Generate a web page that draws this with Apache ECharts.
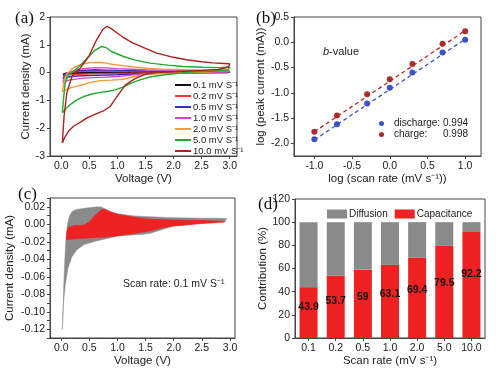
<!DOCTYPE html>
<html><head><meta charset="utf-8">
<script src="https://cdn.jsdelivr.net/npm/echarts@6/dist/echarts.min.js"></script>
<style>html,body{margin:0;padding:0;background:#fff}#c{width:496px;height:372px}</style>
</head><body><div id="c"></div>
<script>
// ---------- Panel (a): CV curves [V, mA] ----------
var cvNames = ['0.1 mV S⁻¹','0.2 mV S⁻¹','0.5 mV S⁻¹','1.0 mV S⁻¹','2.0 mV S⁻¹','5.0 mV S⁻¹','10.0 mV S⁻¹'];
var cvColors = ['#111111','#ff3333','#3333bb','#dd44cc','#ff9933','#22aa33','#aa2222'];
var cv01 = [[0.03,-0.06],[0.06,-0.02],[0.12,0.0],[0.3,0.02],[0.6,0.03],[1.0,0.025],[1.5,0.02],[2.0,0.015],[2.5,0.012],[3.0,0.01],[2.95,0.0],[2.5,-0.002],[2.0,-0.005],[1.5,-0.01],[1.0,-0.014],[0.6,-0.02],[0.3,-0.03],[0.1,-0.04],[0.03,-0.06]];
var cv02 = [[0.03,-0.12],[0.06,-0.05],[0.12,0.0],[0.3,0.04],[0.6,0.06],[1.0,0.05],[1.5,0.04],[2.0,0.03],[2.5,0.025],[3.0,0.02],[2.95,0.0],[2.5,-0.005],[2.0,-0.01],[1.5,-0.02],[1.0,-0.03],[0.6,-0.04],[0.3,-0.06],[0.1,-0.08],[0.03,-0.12]];
var cv05 = [[0.03,-0.22],[0.06,-0.1],[0.12,-0.01],[0.3,0.07],[0.6,0.1],[0.8,0.09],[1.0,0.08],[1.5,0.06],[2.0,0.05],[2.5,0.04],[3.0,0.035],[2.95,0.01],[2.5,0.0],[2.0,-0.01],[1.5,-0.03],[1.2,-0.06],[1.0,-0.08],[0.6,-0.1],[0.3,-0.12],[0.1,-0.16],[0.03,-0.22]];
var cv10 = [[0.03,-0.35],[0.06,-0.15],[0.12,-0.02],[0.3,0.12],[0.6,0.18],[0.8,0.17],[1.0,0.14],[1.5,0.1],[2.0,0.08],[2.5,0.065],[3.0,0.06],[2.95,0.02],[2.5,0.0],[2.0,-0.02],[1.5,-0.04],[1.2,-0.1],[1.0,-0.14],[0.7,-0.17],[0.4,-0.2],[0.15,-0.26],[0.03,-0.35]];
var cv20 = [[0.02,-0.68],[0.05,-0.35],[0.1,-0.05],[0.2,0.15],[0.3,0.25],[0.4,0.32],[0.52,0.36],[0.66,0.37],[0.8,0.34],[0.9,0.3],[1.1,0.25],[1.3,0.2],[1.55,0.15],[1.8,0.12],[2.2,0.1],[2.5,0.09],[2.8,0.085],[3.0,0.09],[2.97,0.04],[2.6,0.02],[2.2,0.0],[1.8,-0.03],[1.5,-0.06],[1.3,-0.14],[1.1,-0.24],[0.9,-0.27],[0.7,-0.29],[0.5,-0.36],[0.34,-0.46],[0.2,-0.53],[0.1,-0.6],[0.02,-0.68]];
var cv50 = [[0.02,-1.45],[0.04,-0.97],[0.07,-0.37],[0.13,-0.08],[0.25,0.1],[0.35,0.28],[0.46,0.52],[0.6,0.8],[0.72,0.94],[0.8,0.9],[0.9,0.75],[1.11,0.58],[1.3,0.46],[1.58,0.34],[1.9,0.27],[2.17,0.22],[2.5,0.19],[2.8,0.18],[3.0,0.2],[2.97,0.1],[2.7,0.05],[2.3,0.02],[1.88,-0.07],[1.6,-0.15],[1.4,-0.26],[1.25,-0.38],[1.1,-0.52],[0.96,-0.62],[0.82,-0.68],[0.69,-0.71],[0.55,-0.77],[0.4,-0.86],[0.28,-0.98],[0.16,-1.15],[0.07,-1.33],[0.02,-1.45]];
var cv100 = [[0.02,-2.53],[0.05,-1.58],[0.1,-0.73],[0.19,-0.14],[0.34,0.17],[0.49,0.58],[0.63,1.18],[0.74,1.55],[0.81,1.66],[0.88,1.6],[0.96,1.48],[1.1,1.27],[1.28,1.06],[1.5,0.87],[1.7,0.7],[2.0,0.55],[2.23,0.46],[2.5,0.39],[2.7,0.35],[2.9,0.33],[3.0,0.32],[2.98,0.2],[2.8,0.11],[2.4,0.07],[2.0,0.03],[1.7,0.0],[1.5,-0.06],[1.35,-0.18],[1.25,-0.3],[1.14,-0.45],[1.05,-0.7],[0.95,-0.98],[0.87,-1.22],[0.75,-1.38],[0.6,-1.5],[0.46,-1.63],[0.35,-1.77],[0.22,-1.93],[0.14,-2.08],[0.07,-2.3],[0.02,-2.53]];
var cvCurves = [cv01, cv02, cv05, cv10, cv20, cv50, cv100];

// ---------- Panel (b): b-value ----------
var logRate = [-1.0, -0.7, -0.3, 0.0, 0.3, 0.7, 1.0];
var logDischarge = [-1.92, -1.62, -1.21, -0.90, -0.60, -0.20, 0.05];
var logCharge = [-1.77, -1.45, -1.03, -0.73, -0.43, -0.03, 0.22];
var fitDischarge = [[-1.0, -1.93], [1.0, 0.06]];
var fitCharge = [[-1.0, -1.77], [1.0, 0.23]];

// ---------- Panel (c): capacitive contribution at 0.1 mV/s ----------
var totalRegion = [[0.02,-0.12],[0.03,-0.1],[0.045,-0.07],[0.06,-0.045],[0.08,-0.02],[0.11,0.0],[0.15,0.01],[0.2,0.015],[0.27,0.017],[0.45,0.0185],[0.65,0.02],[0.72,0.0195],[0.8,0.017],[0.9,0.0135],[1.0,0.012],[1.3,0.0095],[1.6,0.0085],[2.0,0.0075],[2.5,0.007],[2.85,0.0068],[2.95,0.006],[2.9,0.0035],[2.6,0.0015],[2.4,0.001],[2.0,-0.002],[1.8,-0.006],[1.6,-0.01],[1.45,-0.0115],[1.2,-0.0125],[1.0,-0.0135],[0.8,-0.0165],[0.6,-0.0195],[0.4,-0.0235],[0.28,-0.029],[0.19,-0.037],[0.12,-0.05],[0.07,-0.07],[0.04,-0.09],[0.02,-0.12]];
var capRegion = [[0.09,-0.0175],[0.1,-0.008],[0.13,-0.003],[0.25,-0.0015],[0.4,-0.001],[0.5,0.003],[0.6,0.01],[0.7,0.016],[0.76,0.0175],[0.85,0.015],[1.0,0.0115],[1.3,0.008],[1.6,0.0058],[2.0,0.005],[2.5,0.0042],[2.88,0.0035],[2.92,0.003],[2.88,0.0022],[2.5,0.0008],[2.2,-0.001],[2.0,-0.002],[1.8,-0.004],[1.6,-0.0075],[1.3,-0.0105],[1.0,-0.0133],[0.7,-0.015],[0.4,-0.016],[0.2,-0.017],[0.09,-0.0175]];

// ---------- Panel (d): contribution bars ----------
var scanRates = ['0.1','0.2','0.5','1.0','2.0','5.0','10.0'];
var capacitance = [43.9, 53.7, 59, 63.1, 69.4, 79.5, 92.2];
var diffusion = [56.1, 46.3, 41, 36.9, 30.6, 20.5, 7.8];

var FONT = 'Liberation Sans';
var AX = '#444';
var TICKFONT = 10.5;
function lbl(extra) {
  var o = {color: '#222', fontSize: TICKFONT, fontFamily: FONT, margin: 5};
  for (var k in extra) o[k] = extra[k];
  return o;
}
function axisBase(extra) {
  var o = {
    axisLine: {show: true, onZero: false, lineStyle: {color: AX, width: 1}},
    axisTick: {show: true, inside: false, length: 3, lineStyle: {color: AX}},
    minorTick: {show: false},
    axisLabel: lbl({}),
    splitLine: {show: false},
    nameTextStyle: {color: '#222', fontSize: 11.5, fontFamily: FONT},
    nameLocation: 'middle'
  };
  for (var k in extra) o[k] = extra[k];
  return o;
}
function fmt1(v) { return v.toFixed(1); }
function polygonSeries(pts, color) {
  return {
    type: 'custom', xAxisIndex: 2, yAxisIndex: 2, data: pts, silent: true,
    renderItem: function (params, api) {
      if (params.dataIndex !== 0) return null;
      var p = pts.map(function (d) { return api.coord(d); });
      return {type: 'polygon', shape: {points: p}, style: {fill: color, stroke: color, lineWidth: 0.5}};
    }
  };
}

var series = [];
cvCurves.forEach(function (c, i) {
  series.push({type: 'line', name: cvNames[i], xAxisIndex: 0, yAxisIndex: 0, data: c,
    showSymbol: false, symbol: 'none', lineStyle: {color: cvColors[i], width: 1.4}, itemStyle: {color: cvColors[i]}, silent: true});
});
series.push({type: 'line', name: 'discharge fit', xAxisIndex: 1, yAxisIndex: 1, data: fitDischarge, symbol: 'none',
  lineStyle: {color: '#3f51c8', width: 1.3, type: [4, 3]}});
series.push({type: 'line', name: 'charge fit', xAxisIndex: 1, yAxisIndex: 1, data: fitCharge, symbol: 'none',
  lineStyle: {color: '#b02a2a', width: 1.3, type: [4, 3]}});
series.push({type: 'scatter', name: 'discharge', xAxisIndex: 1, yAxisIndex: 1, symbolSize: 6,
  data: logRate.map(function (x, i) { return [x, logDischarge[i]]; }), itemStyle: {color: '#3f51c8', opacity: 1}});
series.push({type: 'scatter', name: 'charge', xAxisIndex: 1, yAxisIndex: 1, symbolSize: 6,
  data: logRate.map(function (x, i) { return [x, logCharge[i]]; }), itemStyle: {color: '#b02a2a', opacity: 1}});
series.push(polygonSeries(totalRegion, '#8a8a8a'));
series.push(polygonSeries(capRegion, '#ee2222'));
series.push({type: 'bar', name: 'Capacitance', xAxisIndex: 3, yAxisIndex: 3, stack: 'c', data: capacitance, barWidth: 18,
  itemStyle: {color: '#ee2222'},
  label: {show: true, position: ['50%', '40%'], align: 'center', verticalAlign: 'middle', color: '#111', fontWeight: 'bold', fontSize: 10.5, fontFamily: FONT}});
series.push({type: 'bar', name: 'Diffusion', xAxisIndex: 3, yAxisIndex: 3, stack: 'c', data: diffusion, barWidth: 18,
  itemStyle: {color: '#8a8a8a'}});

var titleStyle = {fontFamily: 'Liberation Serif', fontSize: 17, fontWeight: 'normal', color: '#111'};
var option = {
  animation: false,
  backgroundColor: '#fff',
  textStyle: {fontFamily: FONT},
  title: [
    {text: '(a)', left: 10, top: 5, textStyle: titleStyle},
    {text: '(b)', left: 251, top: 5, textStyle: titleStyle},
    {text: '(c)', left: 13, top: 181, textStyle: titleStyle},
    {text: '(d)', left: 253, top: 191, textStyle: titleStyle}
  ],
  grid: [
    {left: 50, top: 17, width: 187, height: 139, show: true, borderColor: AX, borderWidth: 1, backgroundColor: 'transparent'},
    {left: 294, top: 17, width: 187, height: 139, show: true, borderColor: AX, borderWidth: 1, backgroundColor: 'transparent'},
    {left: 50, top: 198, width: 185, height: 140, show: true, borderColor: AX, borderWidth: 1, backgroundColor: 'transparent'},
    {left: 295, top: 199, width: 190, height: 139, show: true, borderColor: AX, borderWidth: 1, backgroundColor: 'transparent'}
  ],
  xAxis: [
    axisBase({type: 'value', gridIndex: 0, min: -0.2, max: 3.13, splitNumber: 6, name: 'Voltage (V)', nameGap: 16,
      axisLabel: lbl({showMinLabel: false, showMaxLabel: false, formatter: fmt1})}),
    axisBase({type: 'value', gridIndex: 1, min: -1.27, max: 1.21, name: 'log (scan rate (mV s⁻¹))', nameGap: 16,
      axisLabel: lbl({showMinLabel: false, showMaxLabel: false, formatter: fmt1})}),
    axisBase({type: 'value', gridIndex: 2, min: -0.2, max: 3.09, splitNumber: 6, name: 'Voltage (V)', nameGap: 16,
      axisLabel: lbl({showMinLabel: false, showMaxLabel: false, formatter: fmt1})}),
    axisBase({type: 'category', gridIndex: 3, data: scanRates, name: 'Scan rate (mV s⁻¹)', nameGap: 17,
      axisLabel: lbl({interval: 0}),
      axisTick: {show: true, alignWithLabel: true, length: 3, lineStyle: {color: AX}}})
  ],
  yAxis: [
    axisBase({type: 'value', gridIndex: 0, min: -3, max: 2, interval: 1, name: 'Current density (mA)', nameGap: 17}),
    axisBase({type: 'value', gridIndex: 1, min: -2.25, max: 0.5, name: 'log (peak current (mA))', nameGap: 27,
      axisLabel: lbl({showMinLabel: false, showMaxLabel: true, formatter: fmt1})}),
    axisBase({type: 'value', gridIndex: 2, min: -0.13, max: 0.03, interval: 0.01, name: 'Current density (mA)', nameGap: 34,
      axisLabel: lbl({formatter: function (v) { var n = Math.round(v * 100); return (n % 2 === 0) ? (n === 0 ? '0.00' : v.toFixed(2)) : ''; }})}),
    axisBase({type: 'value', gridIndex: 3, min: 0, max: 120, interval: 20, name: 'Contribution (%)', nameGap: 23})
  ],
  legend: [
    {data: cvNames, orient: 'vertical', left: 170, top: 75, itemWidth: 16, itemHeight: 2, itemGap: 1, icon: 'rect',
      textStyle: {fontSize: 9.5, fontFamily: FONT, color: '#222', padding: [0, 0, 0, -3]}, selectedMode: false},
    {data: ['discharge', 'charge'], orient: 'vertical', left: 374, top: 113, itemWidth: 5, itemHeight: 5, itemGap: 0, icon: 'circle', selectedMode: false,
      formatter: function (n) { return n === 'discharge' ? '{a|discharge: }{b|0.994}' : '{a|charge:}{b|0.998}'; },
      textStyle: {fontSize: 10, fontFamily: FONT, color: '#222', lineHeight: 11, padding: [0, 0, 0, 5],
        rich: {a: {width: 49, fontSize: 10, fontFamily: FONT, color: '#222', lineHeight: 11}, b: {fontSize: 10, fontFamily: FONT, color: '#222', lineHeight: 11}}}},
    {data: ['Diffusion', 'Capacitance'], orient: 'horizontal', left: 322, top: 204, itemWidth: 20, itemHeight: 9, itemGap: 7, icon: 'rect', selectedMode: false,
      textStyle: {fontSize: 10, fontFamily: FONT, color: '#222', padding: [0, 0, 0, -3]}}
  ],
  graphic: [
    {type: 'text', left: 323, top: 46, style: {text: '{i|b}-value', font: '11px Liberation Sans', fill: '#222', rich: {i: {fontStyle: 'italic', fontSize: 11, fontFamily: FONT, fill: '#222'}}}},
    {type: 'text', left: 93, top: 217, style: {text: '43.9%', font: 'bold 13px Liberation Sans', fill: '#111'}},
    {type: 'text', left: 123, top: 279, style: {text: 'Scan rate: 0.1 mV S⁻¹', font: '10.5px Liberation Sans', fill: '#222'}}
  ],
  series: series
};
var chart = echarts.init(document.getElementById('c'), null, {renderer: 'canvas'});
chart.setOption(option);
</script></body></html>
